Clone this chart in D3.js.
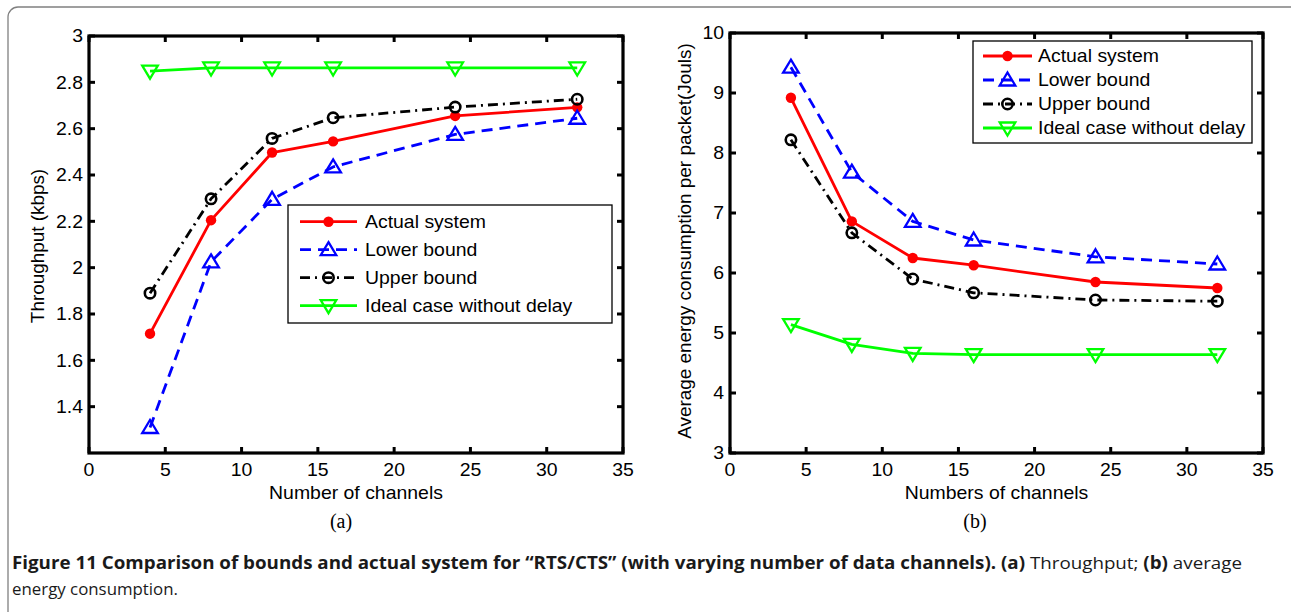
<!DOCTYPE html>
<html><head><meta charset="utf-8">
<script src="https://cdn.jsdelivr.net/npm/d3@7"></script>
<style>body{margin:0;background:#fff}svg{display:block}</style>
</head><body><svg id="c" width="1291" height="612"></svg>
<script>
const channels = [4, 8, 12, 16, 24, 32];
const thrActual = [1.715, 2.205, 2.497, 2.545, 2.655, 2.692];
const thrLower  = [1.31, 2.025, 2.295, 2.435, 2.575, 2.645];
const thrUpper  = [1.89, 2.297, 2.558, 2.647, 2.693, 2.727];
const thrIdeal  = [2.848, 2.862, 2.862, 2.862, 2.862, 2.862];
const engActual = [8.92, 6.86, 6.25, 6.13, 5.85, 5.75];
const engLower  = [9.43, 7.68, 6.86, 6.55, 6.27, 6.15];
const engUpper  = [8.22, 6.67, 5.90, 5.67, 5.55, 5.53];
const engIdeal  = [5.14, 4.81, 4.66, 4.64, 4.64, 4.64];
const seriesNames = ["Actual system", "Lower bound", "Upper bound", "Ideal case without delay"];
const xTicks = [0, 5, 10, 15, 20, 25, 30, 35];
const thrTicks = [1.4, 1.6, 1.8, 2, 2.2, 2.4, 2.6, 2.8, 3];
const engTicks = [3, 4, 5, 6, 7, 8, 9, 10];

const styles = [
  {color: "#ff0000", dash: null, marker: "dot"},
  {color: "#0000ff", dash: "11,7", marker: "up"},
  {color: "#000000", dash: "10,5,2,5", marker: "circle"},
  {color: "#00ff00", dash: null, marker: "down"}
];
const FONT = "'Liberation Sans', Arial, Helvetica, sans-serif";
const SX = 1.08;
const svg = d3.select("#c");

// outer frame
svg.append("rect").attr("x", 8).attr("y", 7).attr("width", 1300).attr("height", 640)
  .attr("rx", 10).attr("fill", "none").attr("stroke", "#808080").attr("stroke-width", 1.3);

function drawMarker(g, type, color, x, y) {
  if (type === "dot") {
    g.append("circle").attr("cx", x).attr("cy", y).attr("r", 5.2).attr("fill", color);
  } else if (type === "circle") {
    g.append("circle").attr("cx", x).attr("cy", y).attr("r", 5.2).attr("fill", "none")
      .attr("stroke", color).attr("stroke-width", 2.6);
  } else if (type === "up") {
    g.append("path").attr("d", `M${x},${y-7.5}L${x+7.8},${y+5.5}L${x-7.8},${y+5.5}Z`)
      .attr("fill", "none").attr("stroke", color).attr("stroke-width", 2.3).attr("stroke-linejoin", "miter");
  } else {
    g.append("path").attr("d", `M${x},${y+7.5}L${x+7.8},${y-5.5}L${x-7.8},${y-5.5}Z`)
      .attr("fill", "none").attr("stroke", color).attr("stroke-width", 2.3).attr("stroke-linejoin", "miter");
  }
}

function hText(g, x, y, str, anchor, size) {
  return g.append("text").attr("transform", `translate(${x},${y}) scale(${SX},1)`)
    .attr("text-anchor", anchor).attr("dy", "0.35em")
    .attr("font-family", FONT).attr("font-size", size).attr("fill", "#000").text(str);
}

function chart(cfg) {
  const g = svg.append("g");
  const x = d3.scaleLinear().domain([0, 35]).range([cfg.left, cfg.right]);
  const y = d3.scaleLinear().domain(cfg.yDomain).range([cfg.bottom, cfg.top]);

  const tk = 6;
  xTicks.forEach(t => {
    g.append("line").attr("x1", x(t)).attr("x2", x(t)).attr("y1", cfg.bottom).attr("y2", cfg.bottom - tk)
      .attr("stroke", "#000").attr("stroke-width", 3);
    g.append("line").attr("x1", x(t)).attr("x2", x(t)).attr("y1", cfg.top).attr("y2", cfg.top + tk)
      .attr("stroke", "#000").attr("stroke-width", 3);
    hText(g, x(t), cfg.bottom + 17, String(t), "middle", 18);
  });
  cfg.yTicks.forEach(t => {
    g.append("line").attr("x1", cfg.left).attr("x2", cfg.left + tk).attr("y1", y(t)).attr("y2", y(t))
      .attr("stroke", "#000").attr("stroke-width", 3);
    g.append("line").attr("x1", cfg.right).attr("x2", cfg.right - tk).attr("y1", y(t)).attr("y2", y(t))
      .attr("stroke", "#000").attr("stroke-width", 3);
    hText(g, cfg.left - 6, y(t), String(t), "end", 18);
  });
  g.append("rect").attr("x", cfg.left).attr("y", cfg.top)
    .attr("width", cfg.right - cfg.left).attr("height", cfg.bottom - cfg.top)
    .attr("fill", "none").attr("stroke", "#000").attr("stroke-width", 3.2);

  const line = d3.line().x((d, i) => x(channels[i])).y(d => y(d));
  cfg.series.forEach((vals, si) => {
    const st = styles[si];
    g.append("path").attr("d", line(vals)).attr("fill", "none").attr("stroke", st.color)
      .attr("stroke-width", 2.8).attr("stroke-dasharray", st.dash).attr("stroke-linejoin", "round");
    vals.forEach((v, i) => drawMarker(g, st.marker, st.color, x(channels[i]), y(v)));
  });

  hText(g, (cfg.left + cfg.right) / 2, 493, cfg.xTitle, "middle", 18);
  g.append("text").attr("transform", `translate(${cfg.yTitleX},${cfg.yTitleY}) rotate(-90) scale(1.05,1)`)
    .attr("text-anchor", "middle").attr("dy", "0.35em")
    .attr("font-family", FONT).attr("font-size", 18).text(cfg.yTitle);

  const L = cfg.legend;
  g.append("rect").attr("x", L.x0).attr("y", L.y0).attr("width", L.x1 - L.x0).attr("height", L.y1 - L.y0)
    .attr("fill", "#fff").attr("stroke", "#000").attr("stroke-width", 1.3);
  seriesNames.forEach((name, i) => {
    const st = styles[i];
    const yy = L.row0 + i * L.dy;
    g.append("line").attr("x1", L.lx0).attr("x2", L.lx1).attr("y1", yy).attr("y2", yy)
      .attr("stroke", st.color).attr("stroke-width", 2.8).attr("stroke-dasharray", st.dash);
    drawMarker(g, st.marker, st.color, (L.lx0 + L.lx1) / 2, yy);
    hText(g, L.tx, yy, name, "start", 18);
  });

  g.append("text").attr("x", cfg.subX).attr("y", 528).attr("text-anchor", "middle")
    .attr("font-family", "'Liberation Serif', 'Times New Roman', serif").attr("font-size", 20)
    .text(cfg.sub);
}

chart({
  left: 89, right: 623, top: 36, bottom: 453, yDomain: [1.2, 3], yTicks: thrTicks,
  series: [thrActual, thrLower, thrUpper, thrIdeal],
  xTitle: "Number of channels", yTitle: "Throughput (kbps)", yTitleX: 38, yTitleY: 246,
  legend: {x0: 288, y0: 205, x1: 612, y1: 323, row0: 221.7, dy: 28, lx0: 300, lx1: 357, tx: 365},
  subX: 341, sub: "(a)"
});
chart({
  left: 730, right: 1263, top: 33, bottom: 453, yDomain: [3, 10], yTicks: engTicks,
  series: [engActual, engLower, engUpper, engIdeal],
  xTitle: "Numbers of channels", yTitle: "Average energy consumption per packet(Jouls)", yTitleX: 685, yTitleY: 241,
  legend: {x0: 973, y0: 41, x1: 1252, y1: 143, row0: 56, dy: 24, lx0: 983, lx1: 1032, tx: 1038},
  subX: 975, sub: "(b)"
});

const CF = "'Open Sans', 'Noto Sans', sans-serif";
const cap1 = svg.append("text").attr("x", 12).attr("y", 569).attr("font-family", CF)
  .attr("font-size", 17).attr("fill", "#1a1a1a").attr("textLength", 1230).attr("lengthAdjust", "spacingAndGlyphs");
cap1.append("tspan").attr("font-weight", "bold")
  .text("Figure 11 Comparison of bounds and actual system for \u201CRTS/CTS\u201D (with varying number of data channels). (a)");
cap1.append("tspan").text(" Throughput; ");
cap1.append("tspan").attr("font-weight", "bold").text("(b)");
cap1.append("tspan").text(" average");
svg.append("text").attr("x", 12).attr("y", 595).attr("font-family", CF)
  .attr("font-size", 17).attr("fill", "#1a1a1a").attr("textLength", 166).attr("lengthAdjust", "spacingAndGlyphs")
  .text("energy consumption.");
</script>
</body></html>
